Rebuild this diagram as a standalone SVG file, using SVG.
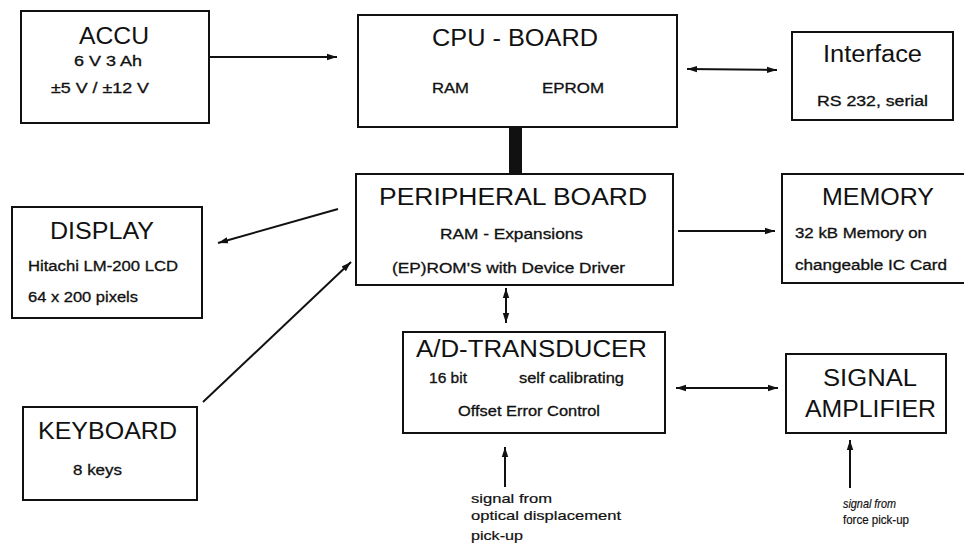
<svg xmlns="http://www.w3.org/2000/svg" width="964" height="547" viewBox="0 0 964 547">
<style>
.box{fill:#fff;stroke:#111;stroke-width:2}
.t{font-family:"Liberation Sans",Arial,sans-serif;fill:#111}
.big{font-size:23px}
.sm{font-size:14px;stroke:#111;stroke-width:0.3}
.xs{font-size:13px;stroke:#111;stroke-width:0.2}
.it{font-style:italic}
.ln{stroke:#111;stroke-width:2;fill:none}
</style>
<defs>
<marker id="ah" viewBox="0 0 10 8" refX="10" refY="4" markerWidth="10" markerHeight="8" markerUnits="userSpaceOnUse" orient="auto-start-reverse">
<path d="M0,0.8 L10,4 L0,7.2 Z" fill="#111"/>
</marker>
</defs>
<rect width="964" height="547" fill="#fff"/>
<g id="connectors">
<line class="ln" x1="209" y1="57" x2="337" y2="57" marker-end="url(#ah)"/>
<line class="ln" x1="687" y1="69" x2="777" y2="70" marker-start="url(#ah)" marker-end="url(#ah)"/>
<rect x="509" y="127" width="13" height="47" fill="#111"/>
<line class="ln" x1="338" y1="209" x2="218" y2="243" marker-end="url(#ah)"/>
<line class="ln" x1="203" y1="402" x2="351" y2="262" marker-end="url(#ah)"/>
<line class="ln" x1="678" y1="231" x2="775" y2="231" marker-end="url(#ah)"/>
<line class="ln" x1="506" y1="288" x2="506" y2="323" marker-start="url(#ah)" marker-end="url(#ah)"/>
<line class="ln" x1="676" y1="388" x2="778" y2="388" marker-start="url(#ah)" marker-end="url(#ah)"/>
<line class="ln" x1="505" y1="487" x2="505" y2="447" marker-end="url(#ah)"/>
<line class="ln" x1="850" y1="488" x2="850" y2="440" marker-end="url(#ah)"/>
</g>
<g id="accu">
<rect class="box" x="21" y="11" width="188" height="112"/>
<text class="t big" x="79" y="44" textLength="70" lengthAdjust="spacingAndGlyphs">ACCU</text>
<text class="t sm" x="74" y="66" textLength="68" lengthAdjust="spacingAndGlyphs">6 V  3 Ah</text>
<text class="t sm" x="51" y="93" textLength="98" lengthAdjust="spacingAndGlyphs">±5 V  / ±12 V</text>
</g>
<g id="cpu">
<rect class="box" x="358" y="15" width="319" height="112"/>
<text class="t big" x="432" y="46" textLength="166" lengthAdjust="spacingAndGlyphs">CPU - BOARD</text>
<text class="t sm" x="432" y="93" textLength="37" lengthAdjust="spacingAndGlyphs">RAM</text>
<text class="t sm" x="542" y="93" textLength="62" lengthAdjust="spacingAndGlyphs">EPROM</text>
</g>
<g id="interface">
<rect class="box" x="792" y="32" width="161" height="88"/>
<text class="t big" x="823" y="62" textLength="99" lengthAdjust="spacingAndGlyphs">Interface</text>
<text class="t sm" x="817" y="106" textLength="111" lengthAdjust="spacingAndGlyphs">RS 232, serial</text>
</g>
<g id="display">
<rect class="box" x="12" y="207" width="190" height="111"/>
<text class="t big" x="50" y="239" textLength="104" lengthAdjust="spacingAndGlyphs">DISPLAY</text>
<text class="t sm" x="28" y="271" textLength="150" lengthAdjust="spacingAndGlyphs">Hitachi LM-200 LCD</text>
<text class="t sm" x="28" y="302" textLength="110" lengthAdjust="spacingAndGlyphs">64 x 200 pixels</text>
</g>
<g id="peripheral">
<rect class="box" x="356" y="174" width="317" height="111"/>
<text class="t big" x="379" y="205" textLength="268" lengthAdjust="spacingAndGlyphs">PERIPHERAL BOARD</text>
<text class="t sm" x="440" y="239" textLength="143" lengthAdjust="spacingAndGlyphs">RAM - Expansions</text>
<text class="t sm" x="392" y="273" textLength="233" lengthAdjust="spacingAndGlyphs">(EP)ROM'S with Device Driver</text>
</g>
<g id="memory">
<rect class="box" x="782" y="174" width="190" height="109"/>
<text class="t big" x="822" y="205" textLength="112" lengthAdjust="spacingAndGlyphs">MEMORY</text>
<text class="t sm" x="795" y="238" textLength="132" lengthAdjust="spacingAndGlyphs">32 kB Memory on</text>
<text class="t sm" x="795" y="270" textLength="152" lengthAdjust="spacingAndGlyphs">changeable IC Card</text>
</g>
<g id="adtransducer">
<rect class="box" x="403" y="332" width="262" height="101"/>
<text class="t big" x="416" y="357" textLength="231" lengthAdjust="spacingAndGlyphs">A/D-TRANSDUCER</text>
<text class="t sm" x="429" y="383" textLength="38" lengthAdjust="spacingAndGlyphs">16 bit</text>
<text class="t sm" x="519" y="383" textLength="105" lengthAdjust="spacingAndGlyphs">self calibrating</text>
<text class="t sm" x="458" y="416" textLength="142" lengthAdjust="spacingAndGlyphs">Offset Error Control</text>
</g>
<g id="amplifier">
<rect class="box" x="786" y="354" width="160" height="79"/>
<text class="t big" x="823" y="386" textLength="94" lengthAdjust="spacingAndGlyphs">SIGNAL</text>
<text class="t big" x="805" y="417" textLength="131" lengthAdjust="spacingAndGlyphs">AMPLIFIER</text>
</g>
<g id="keyboard">
<rect class="box" x="23" y="407" width="174" height="93"/>
<text class="t big" x="38" y="439" textLength="139" lengthAdjust="spacingAndGlyphs">KEYBOARD</text>
<text class="t sm" x="73" y="475" textLength="49" lengthAdjust="spacingAndGlyphs">8 keys</text>
</g>
<g id="labels">
<text class="t xs" x="471" y="503" textLength="81" lengthAdjust="spacingAndGlyphs">signal from</text>
<text class="t xs" x="471" y="520" textLength="150" lengthAdjust="spacingAndGlyphs">optical displacement</text>
<text class="t xs" x="471" y="540" textLength="52" lengthAdjust="spacingAndGlyphs">pick-up</text>
<text class="t xs it" x="843" y="508" textLength="53" lengthAdjust="spacingAndGlyphs">signal from</text>
<text class="t xs" x="843" y="524" textLength="66" lengthAdjust="spacingAndGlyphs">force pick-up</text>
</g>
</svg>
